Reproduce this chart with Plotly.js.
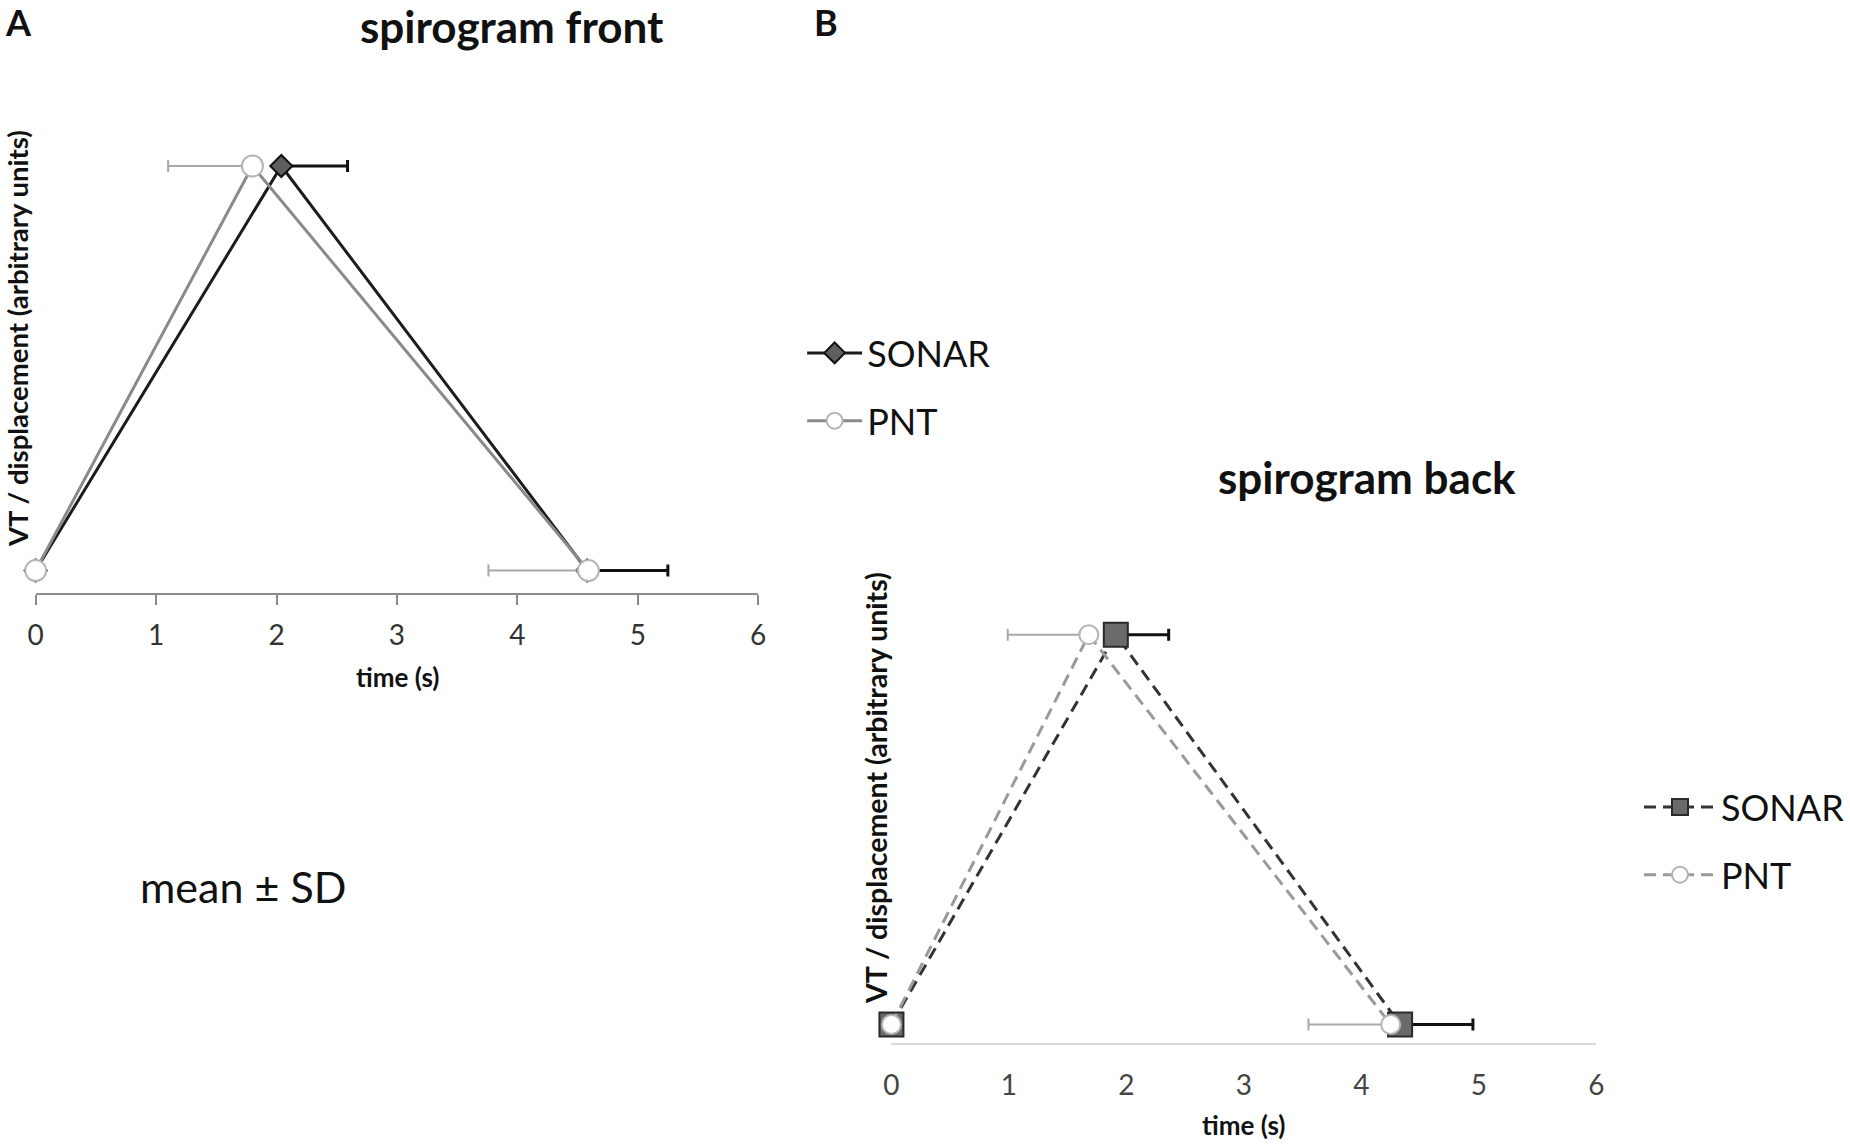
<!DOCTYPE html>
<html>
<head>
<meta charset="utf-8">
<script src="https://cdn.plot.ly/plotly-3.0.1.min.js"></script>
<style>
  html, body { margin: 0; padding: 0; background: #fff; }
  #chart { width: 1850px; height: 1145px; }
</style>
</head>
<body>
<div id="chart"></div>
<script>
// time ticks (s)
const timeTicks = [0, 1, 2, 3, 4, 5, 6];

// panel A: spirogram front (start, peak, end)
const sonarFrontX = [0, 2.04, 4.58];
const sonarFrontY = [0, 1, 0];
const sonarFrontSD = [null, 0.55, 0.67];
const pntFrontX = [0, 1.80, 4.59];
const pntFrontY = [0, 1, 0];
const pntFrontSD = [null, 0.70, 0.83];

// panel B: spirogram back
const sonarBackX = [0, 1.91, 4.33];
const sonarBackY = [0, 1, 0];
const sonarBackSD = [null, 0.45, 0.62];
const pntBackX = [0, 1.68, 4.25];
const pntBackY = [0, 1, 0];
const pntBackSD = [null, 0.69, 0.70];

const FONT = 'Lato, "Open Sans", sans-serif';
const W = 1850, H = 1145;
const px = v => v / W;
const py = v => 1 - v / H;

var sonarFront = {
  x: sonarFrontX, y: sonarFrontY, type: 'scatter', mode: 'lines+markers',
  name: 'SONAR', legend: 'legend', legendgroup: 'a1', cliponaxis: false,
  line: {color: '#1c1c1c', width: 3},
  marker: {symbol: 'diamond', size: 17, color: '#5e5e5e', line: {color: '#111', width: 2}},
  error_x: {type: 'data', symmetric: false, array: sonarFrontSD, arrayminus: [],
            color: '#111', thickness: 3, width: 6}
};
var pntFront = {
  x: pntFrontX, y: pntFrontY, type: 'scatter', mode: 'lines+markers',
  name: 'PNT', legend: 'legend', legendgroup: 'a2', cliponaxis: false,
  line: {color: '#8a8a8a', width: 3},
  marker: {symbol: 'circle', size: 21, color: '#fff', line: {color: '#b5b5b5', width: 2}},
  error_x: {type: 'data', symmetric: false, array: [], arrayminus: pntFrontSD,
            color: '#a8a8a8', thickness: 2, width: 6}
};
var sonarBack = {
  x: sonarBackX, y: sonarBackY, type: 'scatter', mode: 'lines+markers',
  xaxis: 'x2', yaxis: 'y2', name: 'SONAR', legend: 'legend2', legendgroup: 'b1', cliponaxis: false,
  line: {color: '#333', width: 3, dash: '12px,7px'},
  marker: {symbol: 'square', size: 24, color: '#6a6a6a', line: {color: '#2a2a2a', width: 2}},
  error_x: {type: 'data', symmetric: false, array: sonarBackSD, arrayminus: [],
            color: '#111', thickness: 3, width: 6}
};
var pntBack = {
  x: pntBackX, y: pntBackY, type: 'scatter', mode: 'lines+markers',
  xaxis: 'x2', yaxis: 'y2', name: 'PNT', legend: 'legend2', legendgroup: 'b2', cliponaxis: false,
  line: {color: '#9a9a9a', width: 3, dash: '12px,7px'},
  marker: {symbol: 'circle', size: 19, color: '#fff', line: {color: '#b5b5b5', width: 2}},
  error_x: {type: 'data', symmetric: false, array: [], arrayminus: pntBackSD,
            color: '#a8a8a8', thickness: 2, width: 6}
};

var tickFont = {family: FONT, size: 28, color: '#333'};

function note(text, x, y, size, bold, extra) {
  return Object.assign({
    text: bold ? '<b>' + text + '</b>' : text,
    xref: 'paper', yref: 'paper', x: px(x), y: py(y),
    showarrow: false, xanchor: 'center', yanchor: 'middle',
    font: {family: FONT, size: size, color: '#111'}
  }, extra || {});
}

var legendStyle = {
  xanchor: 'left', yanchor: 'top', bgcolor: 'rgba(0,0,0,0)',
  font: {family: FONT, size: 36, color: '#111'},
  traceorder: 'grouped', tracegroupgap: 18
};

var layout = {
  width: W, height: H,
  margin: {l: 0, r: 0, t: 0, b: 0},
  paper_bgcolor: '#fff', plot_bgcolor: '#fff',
  showlegend: true,
  xaxis: {
    domain: [px(35.7), px(759)], range: [0, 6], anchor: 'y',
    tickvals: timeTicks, ticks: 'outside', ticklen: 10, tickwidth: 2, tickcolor: '#8c8c8c',
    showline: true, linecolor: '#8c8c8c', linewidth: 2,
    showgrid: false, zeroline: false, tickfont: tickFont, ticklabelstandoff: 6
  },
  yaxis: {
    domain: [py(593), py(130)], range: [-0.0556, 1.089], anchor: 'x', visible: false
  },
  xaxis2: {
    domain: [px(892.4), px(1598)], range: [0, 6], anchor: 'y2',
    tickvals: timeTicks, ticks: 'outside', ticklen: 10, tickcolor: 'rgba(0,0,0,0)',
    showline: true, linecolor: '#d9d9d9', linewidth: 2,
    showgrid: false, zeroline: false, tickfont: {family: FONT, size: 28, color: '#444'},
    ticklabelstandoff: 6
  },
  yaxis2: {
    domain: [py(1043), py(600)], range: [-0.0475, 1.089], anchor: 'x2', visible: false
  },
  legend: Object.assign({x: px(803), y: py(323), itemwidth: 55}, legendStyle),
  legend2: Object.assign({x: px(1641), y: py(777), itemwidth: 72}, legendStyle),
  annotations: [
    note('A', 3, 22, 36, true, {xanchor: 'left'}),
    note('B', 813, 22, 36, true, {xanchor: 'left'}),
    note('spirogram front', 513, 26, 44, true),
    note('spirogram back', 1368, 477, 44, true),
    note('VT / displacement (arbitrary units)', 17, 338, 27.5, true, {textangle: -90}),
    note('VT / displacement (arbitrary units)', 877, 788, 28.5, true, {textangle: -90}),
    note('time (s)', 398, 677, 26, true),
    note('time (s)', 1245, 1125, 26, true),
    note('mean ± SD', 243, 886, 43, false)
  ]
};

Plotly.newPlot('chart', [sonarFront, pntFront, sonarBack, pntBack], layout, {staticPlot: true});
</script>
</body>
</html>
